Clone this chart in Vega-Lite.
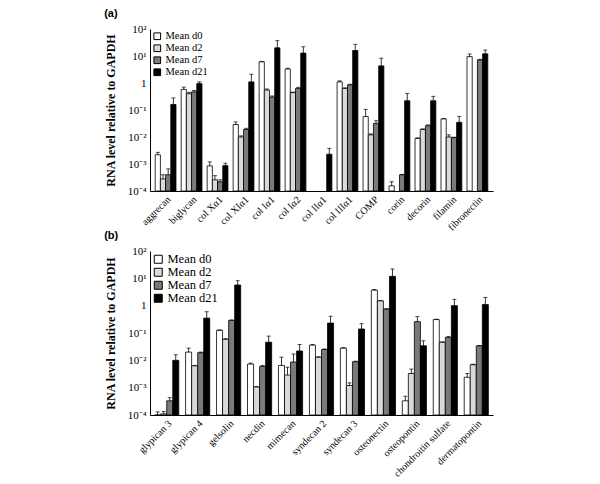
{
  "$schema": "https://vega.github.io/schema/vega-lite/v6.json",
  "background": "white",
  "padding": {"left": 104, "top": 8, "right": 5, "bottom": 0},
  "config": {
    "view": {"stroke": null},
    "font": "Liberation Serif",
    "axis": {"labelFont": "Liberation Serif", "titleFont": "Liberation Serif", "labelColor": "black", "titleColor": "black", "domainColor": "black", "grid": false},
    "legend": {"labelFont": "Liberation Serif", "labelColor": "black"},
    "title": {"font": "Liberation Sans", "fontWeight": "bold", "fontSize": 11, "anchor": "start", "frame": "bounds", "color": "black"}
  },
  "datasets": {
    "a": [
      {"gene": "aggrecan", "series": "Mean d0", "value": 0.0022, "err": 0.0027},
      {"gene": "aggrecan", "series": "Mean d2", "value": 0.00028, "err": 0.0004},
      {"gene": "aggrecan", "series": "Mean d7", "value": 0.0004, "err": 0.00066},
      {"gene": "aggrecan", "series": "Mean d21", "value": 0.16, "err": 0.28},
      {"gene": "biglycan", "series": "Mean d0", "value": 0.58, "err": 0.7},
      {"gene": "biglycan", "series": "Mean d2", "value": 0.4, "err": 0.45},
      {"gene": "biglycan", "series": "Mean d7", "value": 0.47, "err": 0.53},
      {"gene": "biglycan", "series": "Mean d21", "value": 0.95, "err": 1.1},
      {"gene": "col Xα1", "series": "Mean d0", "value": 0.00085, "err": 0.0012},
      {"gene": "col Xα1", "series": "Mean d2", "value": 0.00026, "err": 0.00037},
      {"gene": "col Xα1", "series": "Mean d7", "value": 0.00022, "err": 0.00026},
      {"gene": "col Xα1", "series": "Mean d21", "value": 0.00087, "err": 0.00107},
      {"gene": "col XIα1", "series": "Mean d0", "value": 0.029, "err": 0.036},
      {"gene": "col XIα1", "series": "Mean d2", "value": 0.01, "err": 0.011},
      {"gene": "col XIα1", "series": "Mean d7", "value": 0.019, "err": 0.021},
      {"gene": "col XIα1", "series": "Mean d21", "value": 1.1, "err": 2.1},
      {"gene": "col Iα1", "series": "Mean d0", "value": 6.1, "err": 6.3},
      {"gene": "col Iα1", "series": "Mean d2", "value": 0.55, "err": 0.6},
      {"gene": "col Iα1", "series": "Mean d7", "value": 0.3, "err": 0.33},
      {"gene": "col Iα1", "series": "Mean d21", "value": 20, "err": 37},
      {"gene": "col Iα2", "series": "Mean d0", "value": 3.3, "err": 3.5},
      {"gene": "col Iα2", "series": "Mean d2", "value": 0.44, "err": 0.46},
      {"gene": "col Iα2", "series": "Mean d7", "value": 0.63, "err": 0.69},
      {"gene": "col Iα2", "series": "Mean d21", "value": 12.8, "err": 22},
      {"gene": "col IIα1", "series": "Mean d21", "value": 0.0023, "err": 0.0038},
      {"gene": "col IIIα1", "series": "Mean d0", "value": 1.1, "err": 1.2},
      {"gene": "col IIIα1", "series": "Mean d2", "value": 0.63, "err": 0.66},
      {"gene": "col IIIα1", "series": "Mean d7", "value": 0.85, "err": 0.9},
      {"gene": "col IIIα1", "series": "Mean d21", "value": 16, "err": 27},
      {"gene": "COMP", "series": "Mean d0", "value": 0.057, "err": 0.105},
      {"gene": "COMP", "series": "Mean d2", "value": 0.012, "err": 0.013},
      {"gene": "COMP", "series": "Mean d7", "value": 0.032, "err": 0.04},
      {"gene": "COMP", "series": "Mean d21", "value": 4.3, "err": 8.3},
      {"gene": "corin", "series": "Mean d0", "value": 0.000155, "err": 0.00022},
      {"gene": "corin", "series": "Mean d7", "value": 0.0004, "err": 0.00041},
      {"gene": "corin", "series": "Mean d21", "value": 0.22, "err": 0.41},
      {"gene": "decorin", "series": "Mean d0", "value": 0.0089, "err": 0.0093},
      {"gene": "decorin", "series": "Mean d2", "value": 0.019, "err": 0.02},
      {"gene": "decorin", "series": "Mean d7", "value": 0.026, "err": 0.028},
      {"gene": "decorin", "series": "Mean d21", "value": 0.22, "err": 0.32},
      {"gene": "filamin", "series": "Mean d0", "value": 0.047, "err": 0.048},
      {"gene": "filamin", "series": "Mean d2", "value": 0.01, "err": 0.012},
      {"gene": "filamin", "series": "Mean d7", "value": 0.0095, "err": 0.0098},
      {"gene": "filamin", "series": "Mean d21", "value": 0.035, "err": 0.058},
      {"gene": "fibronectin", "series": "Mean d0", "value": 9.5, "err": 11.8},
      {"gene": "fibronectin", "series": "Mean d7", "value": 7.2, "err": 7.5},
      {"gene": "fibronectin", "series": "Mean d21", "value": 12, "err": 16.6}
    ],
    "b": [
      {"gene": "glypican 3", "series": "Mean d0", "value": 0.0001, "err": 0.00013},
      {"gene": "glypican 3", "series": "Mean d2", "value": 0.00011, "err": 0.000135},
      {"gene": "glypican 3", "series": "Mean d7", "value": 0.00033, "err": 0.00043},
      {"gene": "glypican 3", "series": "Mean d21", "value": 0.01, "err": 0.016},
      {"gene": "glypican 4", "series": "Mean d0", "value": 0.02, "err": 0.028},
      {"gene": "glypican 4", "series": "Mean d2", "value": 0.0063, "err": 0.0065},
      {"gene": "glypican 4", "series": "Mean d7", "value": 0.019, "err": 0.02},
      {"gene": "glypican 4", "series": "Mean d21", "value": 0.35, "err": 0.6},
      {"gene": "gelsolin", "series": "Mean d0", "value": 0.125, "err": 0.13},
      {"gene": "gelsolin", "series": "Mean d2", "value": 0.059, "err": 0.062},
      {"gene": "gelsolin", "series": "Mean d7", "value": 0.29, "err": 0.3},
      {"gene": "gelsolin", "series": "Mean d21", "value": 5.7, "err": 8.2},
      {"gene": "necdin", "series": "Mean d0", "value": 0.0073, "err": 0.0079},
      {"gene": "necdin", "series": "Mean d2", "value": 0.00106, "err": 0.0011},
      {"gene": "necdin", "series": "Mean d7", "value": 0.006, "err": 0.0065},
      {"gene": "necdin", "series": "Mean d21", "value": 0.046, "err": 0.077},
      {"gene": "mimecan", "series": "Mean d0", "value": 0.0065, "err": 0.013},
      {"gene": "mimecan", "series": "Mean d2", "value": 0.0029, "err": 0.0056},
      {"gene": "mimecan", "series": "Mean d7", "value": 0.0087, "err": 0.017},
      {"gene": "mimecan", "series": "Mean d21", "value": 0.022, "err": 0.038},
      {"gene": "syndecan 2", "series": "Mean d0", "value": 0.036, "err": 0.038},
      {"gene": "syndecan 2", "series": "Mean d2", "value": 0.013, "err": 0.0135},
      {"gene": "syndecan 2", "series": "Mean d7", "value": 0.025, "err": 0.026},
      {"gene": "syndecan 2", "series": "Mean d21", "value": 0.23, "err": 0.41},
      {"gene": "syndecan 3", "series": "Mean d0", "value": 0.028, "err": 0.029},
      {"gene": "syndecan 3", "series": "Mean d2", "value": 0.0012, "err": 0.0015},
      {"gene": "syndecan 3", "series": "Mean d7", "value": 0.0089, "err": 0.0093},
      {"gene": "syndecan 3", "series": "Mean d21", "value": 0.14, "err": 0.22},
      {"gene": "osteonectin", "series": "Mean d0", "value": 3.7, "err": 3.9},
      {"gene": "osteonectin", "series": "Mean d2", "value": 1.5, "err": 1.55},
      {"gene": "osteonectin", "series": "Mean d7", "value": 0.75, "err": 0.78},
      {"gene": "osteonectin", "series": "Mean d21", "value": 11.8, "err": 22},
      {"gene": "osteopontin", "series": "Mean d0", "value": 0.00033, "err": 0.00049},
      {"gene": "osteopontin", "series": "Mean d2", "value": 0.0033, "err": 0.0048},
      {"gene": "osteopontin", "series": "Mean d7", "value": 0.26, "err": 0.4},
      {"gene": "osteopontin", "series": "Mean d21", "value": 0.034, "err": 0.052},
      {"gene": "chondroitin sulfate", "series": "Mean d0", "value": 0.31, "err": 0.32},
      {"gene": "chondroitin sulfate", "series": "Mean d2", "value": 0.046, "err": 0.047},
      {"gene": "chondroitin sulfate", "series": "Mean d7", "value": 0.069, "err": 0.075},
      {"gene": "chondroitin sulfate", "series": "Mean d21", "value": 1.0, "err": 1.7},
      {"gene": "dermatopontin", "series": "Mean d0", "value": 0.0024, "err": 0.0033},
      {"gene": "dermatopontin", "series": "Mean d2", "value": 0.0069, "err": 0.0072},
      {"gene": "dermatopontin", "series": "Mean d7", "value": 0.034, "err": 0.035},
      {"gene": "dermatopontin", "series": "Mean d21", "value": 1.1, "err": 2.0}
    ]
  },
  "vconcat": [
    {
      "title": {"text": "(a)"},
      "data": {"name": "a"},
      "width": 343,
      "height": 162,
      "encoding": {
        "x": {"field": "gene", "type": "nominal", "sort": null, "title": null,
              "scale": {"paddingInner": 0.2, "paddingOuter": 0.2},
              "axis": {"labelAngle": -45, "labelFontSize": 10, "ticks": false, "labelPadding": 3, "domainWidth": 1}},
        "xOffset": {"field": "series", "type": "nominal", "sort": ["Mean d0", "Mean d2", "Mean d7", "Mean d21"]}
      },
      "layer": [
        {
          "mark": {"type": "bar", "stroke": "black", "strokeWidth": 0.8},
          "encoding": {
            "y": {"field": "value", "type": "quantitative", "scale": {"type": "log", "domain": [0.0001, 100]},
                  "title": "RNA level relative to GAPDH",
                  "axis": {"values": [0.0001, 0.001, 0.01, 0.1, 1, 10, 100], "labelExpr": "['10⁻⁴','10⁻³','10⁻²','10⁻¹','1','10¹','10²'][round(log(datum.value)/LN10)+4]",
                           "labelFontSize": 11, "ticks": false, "labelPadding": 4, "titleFontSize": 12, "titleFontWeight": "bold", "titlePadding": 10, "domainWidth": 1}},
            "y2": {"datum": 0.0001},
            "fill": {"field": "series", "type": "nominal", "sort": ["Mean d0", "Mean d2", "Mean d7", "Mean d21"],
                     "scale": {"domain": ["Mean d0", "Mean d2", "Mean d7", "Mean d21"], "range": ["#ffffff", "#d9d9d9", "#7a7a7a", "#000000"]},
                     "legend": {"title": null, "orient": "top-left", "offset": 2, "padding": 0, "symbolType": "square", "symbolSize": 45, "symbolStrokeColor": "black", "symbolStrokeWidth": 1, "labelFontSize": 10.5, "rowPadding": 0, "labelOffset": 3}}
          }
        },
        {
          "mark": {"type": "rule", "color": "black", "strokeWidth": 0.8},
          "encoding": {"y": {"field": "value", "type": "quantitative"}, "y2": {"field": "err"}}
        },
        {
          "mark": {"type": "tick", "color": "black", "thickness": 1, "size": 4},
          "encoding": {"y": {"field": "err", "type": "quantitative"}}
        }
      ]
    },
    {
      "title": {"text": "(b)"},
      "data": {"name": "b"},
      "width": 343,
      "height": 164,
      "encoding": {
        "x": {"field": "gene", "type": "nominal", "sort": null, "title": null,
              "scale": {"paddingInner": 0.22, "paddingOuter": 0.15},
              "axis": {"labelAngle": -45, "labelFontSize": 10, "ticks": false, "labelPadding": 3, "domainWidth": 1}},
        "xOffset": {"field": "series", "type": "nominal", "sort": ["Mean d0", "Mean d2", "Mean d7", "Mean d21"]}
      },
      "layer": [
        {
          "mark": {"type": "bar", "stroke": "black", "strokeWidth": 0.8},
          "encoding": {
            "y": {"field": "value", "type": "quantitative", "scale": {"type": "log", "domain": [0.0001, 100]},
                  "title": "RNA level relative to GAPDH",
                  "axis": {"values": [0.0001, 0.001, 0.01, 0.1, 1, 10, 100], "labelExpr": "['10⁻⁴','10⁻³','10⁻²','10⁻¹','1','10¹','10²'][round(log(datum.value)/LN10)+4]",
                           "labelFontSize": 11, "ticks": false, "labelPadding": 4, "titleFontSize": 12, "titleFontWeight": "bold", "titlePadding": 10, "domainWidth": 1}},
            "y2": {"datum": 0.0001},
            "fill": {"field": "series", "type": "nominal", "sort": ["Mean d0", "Mean d2", "Mean d7", "Mean d21"],
                     "scale": {"domain": ["Mean d0", "Mean d2", "Mean d7", "Mean d21"], "range": ["#ffffff", "#d9d9d9", "#7a7a7a", "#000000"]},
                     "legend": {"title": null, "orient": "top-left", "offset": 2, "padding": 0, "symbolType": "square", "symbolSize": 64, "symbolStrokeColor": "black", "symbolStrokeWidth": 1, "labelFontSize": 12.5, "rowPadding": 0, "labelOffset": 3}}
          }
        },
        {
          "mark": {"type": "rule", "color": "black", "strokeWidth": 0.8},
          "encoding": {"y": {"field": "value", "type": "quantitative"}, "y2": {"field": "err"}}
        },
        {
          "mark": {"type": "tick", "color": "black", "thickness": 1, "size": 4},
          "encoding": {"y": {"field": "err", "type": "quantitative"}}
        }
      ]
    }
  ],
  "spacing": -3,
  "resolve": {"legend": {"fill": "independent"}, "scale": {"x": "independent", "xOffset": "independent"}}
}
